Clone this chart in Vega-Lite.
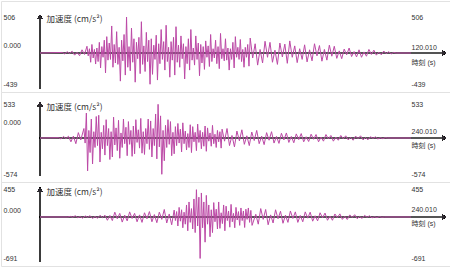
{
  "$schema": "https://vega.github.io/schema/vega-lite/v6.json",
  "padding": 0,
  "spacing": 0,
  "bounds": "flush",
  "background": "white",
  "config": {
    "view": {"stroke": "#e2e2e2", "strokeWidth": 1},
    "axis": {
      "ticks": false, "tickSize": 0, "domain": false, "grid": false,
      "labelFont": "Liberation Sans, Noto Sans CJK JP", "labelFontSize": 7, "labelColor": "#333",
      "labelOverlap": false, "labelFlush": false, "labelBound": false,
      "titleFont": "Noto Sans CJK JP", "titleFontSize": 8.5, "titleFontWeight": "normal", "titleColor": "#333",
      "titleAngle": 0, "titleAlign": "left", "titleBaseline": "middle"
    }
  },
  "datasets": {
    "p1": [
      {"t":0,"a":0},{"t":7.2,"a":8},{"t":8,"a":-12},{"t":8.8,"a":18},{"t":9.6,"a":-6},{"t":10.4,"a":25},{"t":11.2,"a":-30},{"t":12,"a":10},{"t":12.8,"a":-38},{"t":13.6,"a":45},{"t":14.4,"a":-20},
      {"t":15.2,"a":95},{"t":15.6,"a":-40},{"t":16,"a":60},{"t":16.4,"a":-130},{"t":16.8,"a":120},{"t":17.2,"a":-70},{"t":17.6,"a":50},{"t":18,"a":-155},{"t":18.4,"a":70},
      {"t":18.8,"a":-120},{"t":19.2,"a":150},{"t":19.6,"a":-210},{"t":20,"a":90},{"t":20.4,"a":-60},{"t":20.8,"a":180},{"t":21.2,"a":-280},{"t":21.6,"a":230},{"t":22,"a":-100},{"t":22.4,"a":140},
      {"t":22.8,"a":-90},{"t":23.2,"a":380},{"t":23.6,"a":-200},{"t":24,"a":120},{"t":24.4,"a":-140},{"t":24.8,"a":300},{"t":25.2,"a":-160},{"t":25.6,"a":80},{"t":26,"a":-395},{"t":26.4,"a":180},{"t":26.8,"a":-110},{"t":27.2,"a":260},{"t":27.6,"a":-310},{"t":28,"a":506},{"t":28.4,"a":-200},{"t":28.8,"a":90},{"t":29.2,"a":-250},{"t":29.6,"a":350},{"t":30,"a":-130},{"t":30.4,"a":200},{"t":30.8,"a":-410},{"t":31.2,"a":150},{"t":31.6,"a":-80},{"t":32,"a":220},{"t":32.4,"a":-290},{"t":32.8,"a":440},{"t":33.2,"a":-160},{"t":33.6,"a":100},{"t":34,"a":-260},{"t":34.4,"a":290},{"t":34.8,"a":-120},{"t":35.2,"a":180},{"t":35.6,"a":-439},
      {"t":36,"a":200},{"t":36.4,"a":-300},{"t":36.8,"a":110},{"t":37.2,"a":-90},{"t":37.6,"a":250},{"t":38,"a":-380},{"t":38.4,"a":130},{"t":38.8,"a":-150},{"t":39.2,"a":330},{"t":39.6,"a":-90},{"t":40,"a":160},{"t":40.4,"a":-240},{"t":40.8,"a":390},{"t":41.2,"a":-120},{"t":41.6,"a":80},{"t":42,"a":-340},{"t":42.4,"a":160},{"t":42.8,"a":-100},{"t":43.2,"a":220},{"t":43.6,"a":-310},{"t":44,"a":370},{"t":44.4,"a":-130},{"t":44.8,"a":110},{"t":45.2,"a":-200},{"t":45.6,"a":240},{"t":46,"a":-80},{"t":46.4,"a":130},{"t":46.8,"a":-365},{"t":47.2,"a":90},{"t":47.6,"a":-150},{"t":48,"a":200},{"t":48.4,"a":-240},{"t":48.8,"a":330},{"t":49.2,"a":-100},{"t":49.6,"a":70},{"t":50,"a":-170},{"t":50.4,"a":240},{"t":50.8,"a":-90},{"t":51.2,"a":140},{"t":51.6,"a":-320},{"t":52,"a":120},
      {"t":52.4,"a":-140},{"t":52.8,"a":90},{"t":53.2,"a":-230},{"t":53.6,"a":170},{"t":54,"a":-60},{"t":54.4,"a":100},{"t":54.8,"a":-190},{"t":55.2,"a":260},{"t":55.6,"a":-120},{"t":56,"a":60},{"t":56.4,"a":-70},{"t":56.8,"a":180},{"t":57.2,"a":-150},{"t":57.6,"a":90},{"t":58,"a":-220},{"t":58.4,"a":275},{"t":58.8,"a":-80},{"t":59.2,"a":60},{"t":59.6,"a":-110},{"t":60,"a":200},{"t":60.4,"a":-100},{"t":60.8,"a":70},{"t":61.2,"a":-240},{"t":61.6,"a":60},{"t":62,"a":-90},{"t":62.4,"a":150},{"t":62.8,"a":-210},{"t":63.2,"a":230},{"t":63.6,"a":-60},{"t":64,"a":80},{"t":64.4,"a":-90},{"t":64.8,"a":190},{"t":65.2,"a":-120},{"t":65.6,"a":50},{"t":66,"a":-200},{"t":66.4,"a":80},{"t":66.8,"a":-60},{"t":67.2,"a":120},{"t":67.6,"a":-185},{"t":68,"a":210},
      {"t":68.8,"a":-70},{"t":69.6,"a":130},{"t":70.4,"a":-170},{"t":71.2,"a":50},{"t":72,"a":-140},{"t":72.8,"a":165},{"t":73.6,"a":-60},{"t":74.4,"a":150},{"t":75.2,"a":-130},{"t":76,"a":40},{"t":76.8,"a":-160},{"t":77.6,"a":140},{"t":78.4,"a":-55},{"t":79.2,"a":125},{"t":80,"a":-145},{"t":80.8,"a":170},{"t":81.6,"a":-60},{"t":82.4,"a":100},{"t":83.2,"a":-135},{"t":84,"a":60},{"t":84.8,"a":-90},{"t":85.6,"a":115},{"t":86.4,"a":-125},{"t":87.2,"a":45},{"t":88,"a":-110},{"t":88.8,"a":130},{"t":89.6,"a":-40},{"t":90.4,"a":105},{"t":91.2,"a":-115},{"t":92,"a":50},{"t":92.8,"a":-100},{"t":93.6,"a":110},{"t":94.4,"a":-45},{"t":95.2,"a":95},
      {"t":96,"a":-75},{"t":96.8,"a":30},{"t":97.6,"a":-80},{"t":98.4,"a":55},{"t":99.2,"a":-25},{"t":100,"a":70},{"t":100.8,"a":-50},{"t":101.6,"a":20},{"t":102.4,"a":-55},{"t":103.2,"a":45},{"t":104,"a":-60},{"t":104.8,"a":15},{"t":105.6,"a":-45},{"t":106.4,"a":50},{"t":107.2,"a":-20},{"t":108,"a":40},{"t":108.8,"a":-30},{"t":109.6,"a":12},{"t":110.4,"a":-25},{"t":111.2,"a":28},{"t":112,"a":-10},{"t":112.8,"a":18},{"t":113.6,"a":-12},{"t":114.4,"a":8},{"t":115.2,"a":0},{"t":120.01,"a":0}
    ],
    "p2": [
      {"t":0,"a":0},{"t":12,"a":5},{"t":13.6,"a":-15},{"t":15.2,"a":25},{"t":16.8,"a":-10},{"t":18.4,"a":28},
      {"t":20,"a":-60},{"t":21.6,"a":30},{"t":23.2,"a":-90},{"t":24.8,"a":85},{"t":26.4,"a":-30},
      {"t":28.4,"a":150},{"t":29.2,"a":-80},{"t":30,"a":395},{"t":30.8,"a":-520},{"t":31.6,"a":120},{"t":32.4,"a":-230},{"t":33.2,"a":300},{"t":34,"a":-410},{"t":34.8,"a":100},{"t":35.6,"a":-150},{"t":36.4,"a":340},{"t":37.2,"a":-120},{"t":38,"a":360},{"t":38.8,"a":-380},{"t":39.6,"a":90},{"t":40.4,"a":-170},{"t":41.2,"a":200},{"t":42,"a":-270},{"t":42.8,"a":290},{"t":43.6,"a":-120},{"t":44.4,"a":150},{"t":45.2,"a":-340},{"t":46,"a":100},{"t":46.8,"a":-300},{"t":47.6,"a":330},{"t":48.4,"a":-110},{"t":49.2,"a":160},{"t":50,"a":-200},{"t":50.8,"a":280},{"t":51.6,"a":-320},{"t":52.4,"a":80},{"t":53.2,"a":-150},{"t":54,"a":300},{"t":54.8,"a":-90},{"t":55.6,"a":170},{"t":56.4,"a":-280},{"t":57.2,"a":260},{"t":58,"a":-100},{"t":58.8,"a":120},{"t":59.6,"a":-290},{"t":60.4,"a":190},{"t":61.2,"a":-250},{"t":62,"a":290},{"t":62.8,"a":-70},{"t":63.6,"a":130},{"t":64.4,"a":-160},{"t":65.2,"a":310},{"t":66,"a":-240},{"t":66.8,"a":100},{"t":67.6,"a":-260},{"t":68.4,"a":150},{"t":69.2,"a":-90},{"t":70,"a":300},{"t":70.8,"a":-180},{"t":71.6,"a":270},{"t":72.4,"a":-300},{"t":73.2,"a":150},{"t":74,"a":-120},{"t":74.8,"a":380},{"t":75.6,"a":-330},{"t":76.4,"a":533},{"t":77.2,"a":-140},{"t":78,"a":350},{"t":78.8,"a":-574},{"t":79.6,"a":120},{"t":80.4,"a":-360},{"t":81.2,"a":200},{"t":82,"a":-150},{"t":82.8,"a":290},{"t":83.6,"a":-100},{"t":84.4,"a":260},{"t":85.2,"a":-280},{"t":86,"a":90},{"t":86.8,"a":-250},{"t":87.6,"a":180},{"t":88.4,"a":-120},{"t":89.2,"a":230},{"t":90,"a":-80},{"t":90.8,"a":140},{"t":91.6,"a":-220},{"t":92.4,"a":240},{"t":93.2,"a":-90},{"t":94,"a":110},{"t":94.8,"a":-190},{"t":95.6,"a":70},{"t":96.4,"a":-150},{"t":97.2,"a":210},{"t":98,"a":-230},{"t":98.8,"a":180},{"t":99.6,"a":-60},{"t":100.4,"a":90},{"t":101.2,"a":-200},{"t":102,"a":220},{"t":102.8,"a":-70},{"t":103.6,"a":120},{"t":104.4,"a":-170},{"t":105.2,"a":90},{"t":106,"a":-130},{"t":106.8,"a":190},{"t":107.6,"a":-210},{"t":108.4,"a":160},{"t":109.2,"a":-50},{"t":110,"a":80},{"t":110.8,"a":-130},{"t":111.6,"a":200},{"t":112.4,"a":-90},{"t":113.2,"a":60},{"t":114,"a":-150},{"t":114.8,"a":120},{"t":115.6,"a":-60},{"t":116.4,"a":100},{"t":117.2,"a":-160},
      {"t":117.8,"a":140},{"t":119.4,"a":-50},{"t":121,"a":150},{"t":122.6,"a":-120},{"t":124.2,"a":40},{"t":125.8,"a":-140},{"t":127.4,"a":110},{"t":129,"a":-45},{"t":130.6,"a":130},{"t":132.2,"a":-100},{"t":133.8,"a":35},{"t":135.4,"a":-120},{"t":137,"a":95},{"t":138.6,"a":-40},{"t":140.2,"a":120},{"t":141.8,"a":-90},{"t":143.4,"a":30},{"t":145,"a":-105},{"t":146.6,"a":85},{"t":148.2,"a":-35},{"t":149.8,"a":100},{"t":151.4,"a":-80},{"t":153,"a":25},{"t":154.6,"a":-85},{"t":156.2,"a":75},{"t":157.8,"a":-30},{"t":159.4,"a":80},{"t":161,"a":-70},{"t":162.6,"a":25},{"t":164.2,"a":-75},{"t":165.8,"a":65},{"t":167.4,"a":-25},
      {"t":169,"a":70},{"t":170.6,"a":-60},{"t":172.2,"a":20},{"t":173.8,"a":-55},{"t":175.4,"a":60},{"t":177,"a":-20},{"t":178.6,"a":55},{"t":180.2,"a":-60},{"t":181.8,"a":15},{"t":183.4,"a":-50},{"t":185,"a":55},{"t":186.6,"a":-15},{"t":188.2,"a":40},{"t":189.8,"a":-50},{"t":191.4,"a":15},{"t":193,"a":-35},{"t":194.6,"a":40},{"t":196.2,"a":-12},{"t":197.8,"a":35},{"t":199.4,"a":-30},{"t":201,"a":10},{"t":202.6,"a":-35},{"t":204.2,"a":30},{"t":205.8,"a":-10},{"t":207.4,"a":35},{"t":209,"a":-30},{"t":210.6,"a":8},{"t":212.2,"a":-28},{"t":213.8,"a":20},{"t":215.4,"a":-6},{"t":217,"a":18},{"t":218.6,"a":-15},{"t":220.2,"a":5},{"t":221.8,"a":-10},{"t":223.4,"a":6},{"t":225,"a":0},{"t":240.01,"a":0}
    ],
    "p3": [
      {"t":0,"a":0},{"t":18,"a":0},{"t":19.6,"a":10},{"t":21.2,"a":-5},{"t":22.8,"a":20},{"t":24.4,"a":-12},{"t":26,"a":8},{"t":27.6,"a":-20},{"t":29.2,"a":18},{"t":30.8,"a":-8},{"t":32.4,"a":22},{"t":34,"a":-25},{"t":35.6,"a":10},{"t":37.2,"a":-22},{"t":38.8,"a":28},{"t":40.4,"a":-12},{"t":42,"a":30},
      {"t":43.6,"a":-55},{"t":45.2,"a":25},{"t":46.8,"a":-60},{"t":48.4,"a":80},{"t":50,"a":-30},{"t":51.6,"a":60},{"t":53.2,"a":-85},{"t":54.8,"a":30},{"t":56.4,"a":-65},{"t":58,"a":85},{"t":59.6,"a":-25},{"t":61.2,"a":60},{"t":62.8,"a":-80},{"t":64.4,"a":35},{"t":66,"a":-90},{"t":67.6,"a":70},{"t":69.2,"a":-30},{"t":70.8,"a":90},{"t":72.4,"a":-80},{"t":74,"a":40},{"t":75.6,"a":-95},{"t":77.2,"a":80},
      {"t":78.8,"a":-40},{"t":80.4,"a":125},{"t":82,"a":-100},{"t":83.6,"a":50},{"t":85.2,"a":-130},{"t":86.8,"a":115},
      {"t":87.6,"a":-60},{"t":88.4,"a":90},{"t":89.2,"a":-150},{"t":90,"a":160},{"t":90.8,"a":-70},{"t":91.6,"a":120},{"t":92.4,"a":-180},{"t":93.2,"a":80},{"t":94,"a":-120},{"t":94.8,"a":200},{"t":95.6,"a":-230},{"t":96.4,"a":250},{"t":97.2,"a":-90},{"t":98,"a":140},{"t":98.8,"a":-200},{"t":99.6,"a":300},{"t":100.4,"a":-260},{"t":101.2,"a":455},{"t":102,"a":-150},{"t":102.8,"a":330},{"t":103.6,"a":-691},{"t":104.4,"a":400},{"t":105.2,"a":-180},{"t":106,"a":250},{"t":106.8,"a":-420},{"t":107.6,"a":360},{"t":108.4,"a":-120},{"t":109.2,"a":200},{"t":110,"a":-330},{"t":110.8,"a":120},{"t":111.6,"a":-260},{"t":112.4,"a":240},{"t":113.2,"a":-80},{"t":114,"a":130},{"t":114.8,"a":-200},{"t":115.6,"a":250},{"t":116.4,"a":-190},{"t":117.2,"a":70},{"t":118,"a":-110},{"t":118.8,"a":200},{"t":119.6,"a":-230},{"t":120.4,"a":180},{"t":121.2,"a":-60},{"t":122,"a":100},{"t":122.8,"a":-170},{"t":123.6,"a":210},{"t":124.4,"a":-80},{"t":125.2,"a":60},{"t":126,"a":-180},{"t":126.8,"a":160},{"t":127.6,"a":-50},{"t":128.4,"a":90},{"t":129.2,"a":-140},{"t":130,"a":150},{"t":130.8,"a":-60},{"t":131.6,"a":100},{"t":132.4,"a":-175},{"t":133.2,"a":130},{"t":134,"a":-40},{"t":134.8,"a":150},{"t":135.6,"a":-90},{"t":136.4,"a":110},{"t":137.2,"a":-140},
      {"t":139.6,"a":45},{"t":141.2,"a":-120},{"t":142.8,"a":140},{"t":144.4,"a":-40},{"t":146,"a":125},{"t":147.6,"a":-130},{"t":149.2,"a":35},{"t":150.8,"a":-100},{"t":152.4,"a":120},{"t":154,"a":-30},{"t":155.6,"a":95},{"t":157.2,"a":-105},{"t":158.8,"a":30},{"t":160.4,"a":-90},{"t":162,"a":100},{"t":163.6,"a":-25},{"t":165.2,"a":85},{"t":166.8,"a":-90},{"t":168.4,"a":25},{"t":170,"a":-80},{"t":171.6,"a":85},{"t":173.2,"a":-20},{"t":174.8,"a":80},{"t":176.4,"a":-70},{"t":178,"a":20},{"t":179.6,"a":-65},{"t":181.2,"a":70},{"t":182.8,"a":-15},{"t":184.4,"a":65},{"t":186,"a":-55},{"t":187.6,"a":15},
      {"t":189.2,"a":-55},{"t":190.8,"a":50},{"t":192.4,"a":-12},{"t":194,"a":52},{"t":195.6,"a":-40},{"t":197.2,"a":10},{"t":198.8,"a":-42},{"t":200.4,"a":35},{"t":202,"a":-8},{"t":203.6,"a":38},{"t":205.2,"a":-28},{"t":206.8,"a":8},{"t":208.4,"a":-24},{"t":210,"a":26},{"t":211.6,"a":-5},{"t":213.2,"a":20},{"t":214.8,"a":-15},{"t":216.4,"a":4},{"t":218,"a":-10},{"t":219.6,"a":8},{"t":221.2,"a":-5},{"t":222.8,"a":0},{"t":240.01,"a":0}
    ]
  },
  "vconcat": [
    {
      "width": 450, "height": 91,
      "data": {"name": "p1"},
      "resolve": {"axis": {"y": "independent"}},
      "layer": [
        {"mark": {"type": "rule", "color": "#3c3c3c", "strokeWidth": 1},
         "encoding": {
           "x": {"datum": 0, "type": "quantitative", "scale": {"domain": [-12.61, 132.95], "nice": false, "zero": false}, "axis": null},
           "y": {"datum": -506, "type": "quantitative", "scale": {"domain": [-548, 731], "nice": false, "zero": false},
                 "axis": {"orient": "left", "values": [506, 0, -439], "labelExpr": "datum.value == 0 ? '0.000' : '' + datum.value",
                          "labelAlign": "left", "labelBaseline": "middle", "labelPadding": -2,
                          "labelOffset": {"condition": {"test": "datum.value == 0", "value": -8}, "value": 0},
                          "title": "加速度 (cm/s²)", "titleX": 45, "titleY": 17}},
           "y2": {"datum": 506}}},
        {"mark": {"type": "rule", "color": "#555555", "strokeWidth": 1},
         "encoding": {
           "x": {"datum": 0, "type": "quantitative", "scale": {"domain": [-12.61, 132.95], "nice": false, "zero": false}, "axis": null},
           "x2": {"datum": 130.7},
           "y": {"datum": 0, "type": "quantitative", "scale": {"domain": [-548, 731], "nice": false, "zero": false}, "axis": null}}},
        {"mark": {"type": "line", "color": "#bc49a6", "strokeWidth": 1},
         "encoding": {
           "x": {"field": "t", "type": "quantitative", "scale": {"domain": [-12.61, 132.95], "nice": false, "zero": false}, "axis": null},
           "y": {"field": "a", "type": "quantitative", "scale": {"domain": [-548, 731], "nice": false, "zero": false},
                 "axis": {"orient": "right", "values": [506, 0, -439],
                          "labelExpr": "datum.value == 0 ? ['120.010', '時刻 (s)'] : '' + datum.value",
                          "labelAlign": "left", "labelBaseline": "middle", "labelPadding": -40, "labelLineHeight": 15,
                          "labelOffset": {"condition": {"test": "datum.value == 0", "value": -6}, "value": 0},
                          "title": null}}}},
        {"mark": {"type": "point", "shape": "triangle-up", "filled": true, "color": "#2e2a30", "size": 22, "opacity": 1},
         "encoding": {
           "x": {"datum": 0, "type": "quantitative", "scale": {"domain": [-12.61, 132.95], "nice": false, "zero": false}, "axis": null},
           "y": {"datum": 506, "type": "quantitative", "scale": {"domain": [-548, 731], "nice": false, "zero": false}, "axis": null}}},
        {"mark": {"type": "point", "shape": "triangle-right", "filled": true, "color": "#2e2a30", "size": 22, "opacity": 1},
         "encoding": {
           "x": {"datum": 130.7, "type": "quantitative", "scale": {"domain": [-12.61, 132.95], "nice": false, "zero": false}, "axis": null},
           "y": {"datum": 0, "type": "quantitative", "scale": {"domain": [-548, 731], "nice": false, "zero": false}, "axis": null}}}
      ]
    },
    {
      "width": 450, "height": 90,
      "data": {"name": "p2"},
      "resolve": {"axis": {"y": "independent"}},
      "layer": [
        {"mark": {"type": "rule", "color": "#3c3c3c", "strokeWidth": 1},
         "encoding": {
           "x": {"datum": 0, "type": "quantitative", "scale": {"domain": [-25.23, 265.9], "nice": false, "zero": false}, "axis": null},
           "y": {"datum": -601, "type": "quantitative", "scale": {"domain": [-696, 728], "nice": false, "zero": false},
                 "axis": {"orient": "left", "values": [533, 0, -574], "labelExpr": "datum.value == 0 ? '0.000' : '' + datum.value",
                          "labelAlign": "left", "labelBaseline": "middle", "labelPadding": -2,
                          "labelOffset": {"condition": {"test": "datum.value == 0", "value": -16}, "value": 0},
                          "title": "加速度 (cm/s²)", "titleX": 45, "titleY": 14}},
           "y2": {"datum": 533}}},
        {"mark": {"type": "rule", "color": "#555555", "strokeWidth": 1},
         "encoding": {
           "x": {"datum": 0, "type": "quantitative", "scale": {"domain": [-25.23, 265.9], "nice": false, "zero": false}, "axis": null},
           "x2": {"datum": 261.4},
           "y": {"datum": 0, "type": "quantitative", "scale": {"domain": [-696, 728], "nice": false, "zero": false}, "axis": null}}},
        {"mark": {"type": "line", "color": "#bc49a6", "strokeWidth": 1},
         "encoding": {
           "x": {"field": "t", "type": "quantitative", "scale": {"domain": [-25.23, 265.9], "nice": false, "zero": false}, "axis": null},
           "y": {"field": "a", "type": "quantitative", "scale": {"domain": [-696, 728], "nice": false, "zero": false},
                 "axis": {"orient": "right", "values": [533, 0, -574],
                          "labelExpr": "datum.value == 0 ? ['240.010', '時刻 (s)'] : '' + datum.value",
                          "labelAlign": "left", "labelBaseline": "middle", "labelPadding": -40, "labelLineHeight": 14,
                          "labelOffset": {"condition": {"test": "datum.value == 0", "value": -7}, "value": 0},
                          "title": null}}}},
        {"mark": {"type": "point", "shape": "triangle-up", "filled": true, "color": "#2e2a30", "size": 22, "opacity": 1},
         "encoding": {
           "x": {"datum": 0, "type": "quantitative", "scale": {"domain": [-25.23, 265.9], "nice": false, "zero": false}, "axis": null},
           "y": {"datum": 533, "type": "quantitative", "scale": {"domain": [-696, 728], "nice": false, "zero": false}, "axis": null}}},
        {"mark": {"type": "point", "shape": "triangle-right", "filled": true, "color": "#2e2a30", "size": 22, "opacity": 1},
         "encoding": {
           "x": {"datum": 261.4, "type": "quantitative", "scale": {"domain": [-25.23, 265.9], "nice": false, "zero": false}, "axis": null},
           "y": {"datum": 0, "type": "quantitative", "scale": {"domain": [-696, 728], "nice": false, "zero": false}, "axis": null}}}
      ]
    },
    {
      "width": 450, "height": 84,
      "data": {"name": "p3"},
      "resolve": {"axis": {"y": "independent"}},
      "layer": [
        {"mark": {"type": "rule", "color": "#3c3c3c", "strokeWidth": 1},
         "encoding": {
           "x": {"datum": 0, "type": "quantitative", "scale": {"domain": [-25.23, 265.9], "nice": false, "zero": false}, "axis": null},
           "y": {"datum": -750, "type": "quantitative", "scale": {"domain": [-817, 583], "nice": false, "zero": false},
                 "axis": {"orient": "left", "values": [455, 0, -691], "labelExpr": "datum.value == 0 ? '0.000' : '' + datum.value",
                          "labelAlign": "left", "labelBaseline": "middle", "labelPadding": -2,
                          "labelOffset": {"condition": {"test": "datum.value == 0", "value": -6}, "value": 0},
                          "title": "加速度 (cm/s²)", "titleX": 45, "titleY": 9}},
           "y2": {"datum": 455}}},
        {"mark": {"type": "rule", "color": "#555555", "strokeWidth": 1},
         "encoding": {
           "x": {"datum": 0, "type": "quantitative", "scale": {"domain": [-25.23, 265.9], "nice": false, "zero": false}, "axis": null},
           "x2": {"datum": 261.4},
           "y": {"datum": 0, "type": "quantitative", "scale": {"domain": [-817, 583], "nice": false, "zero": false}, "axis": null}}},
        {"mark": {"type": "line", "color": "#bc49a6", "strokeWidth": 1},
         "encoding": {
           "x": {"field": "t", "type": "quantitative", "scale": {"domain": [-25.23, 265.9], "nice": false, "zero": false}, "axis": null},
           "y": {"field": "a", "type": "quantitative", "scale": {"domain": [-817, 583], "nice": false, "zero": false},
                 "axis": {"orient": "right", "values": [455, 0, -691],
                          "labelExpr": "datum.value == 0 ? ['240.010', '時刻 (s)'] : '' + datum.value",
                          "labelAlign": "left", "labelBaseline": "middle", "labelPadding": -40, "labelLineHeight": 14,
                          "labelOffset": {"condition": {"test": "datum.value == 0", "value": -7}, "value": 0},
                          "title": null}}}},
        {"mark": {"type": "point", "shape": "triangle-up", "filled": true, "color": "#2e2a30", "size": 22, "opacity": 1},
         "encoding": {
           "x": {"datum": 0, "type": "quantitative", "scale": {"domain": [-25.23, 265.9], "nice": false, "zero": false}, "axis": null},
           "y": {"datum": 455, "type": "quantitative", "scale": {"domain": [-817, 583], "nice": false, "zero": false}, "axis": null}}},
        {"mark": {"type": "point", "shape": "triangle-right", "filled": true, "color": "#2e2a30", "size": 22, "opacity": 1},
         "encoding": {
           "x": {"datum": 261.4, "type": "quantitative", "scale": {"domain": [-25.23, 265.9], "nice": false, "zero": false}, "axis": null},
           "y": {"datum": 0, "type": "quantitative", "scale": {"domain": [-817, 583], "nice": false, "zero": false}, "axis": null}}}
      ]
    }
  ]
}
